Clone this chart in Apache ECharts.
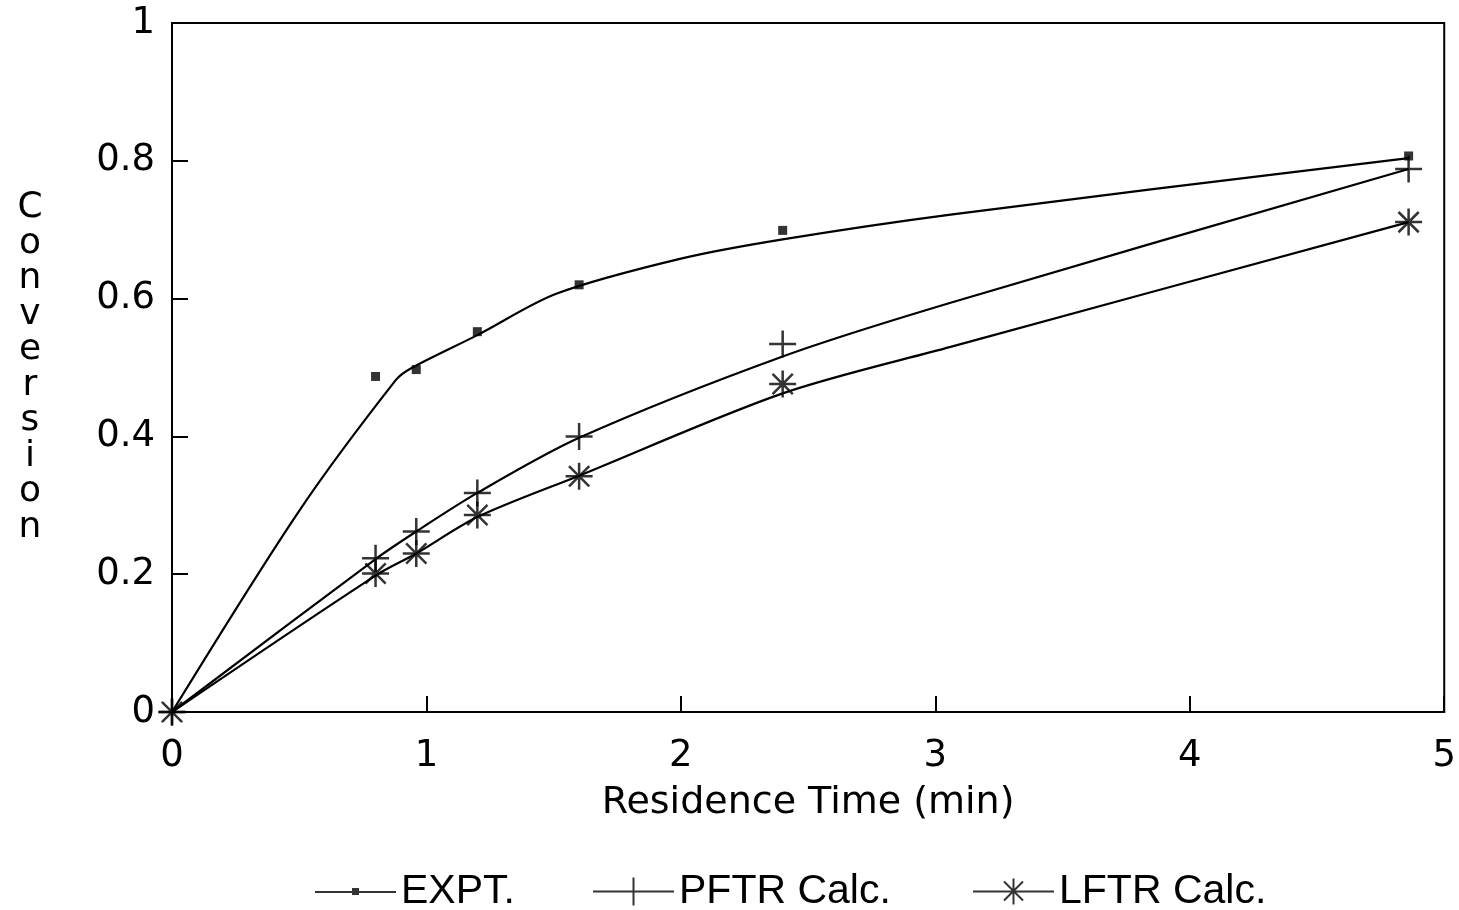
<!DOCTYPE html>
<html>
<head>
<meta charset="utf-8">
<script src="https://cdn.jsdelivr.net/npm/echarts@6/dist/echarts.min.js"></script>
<style>
html, body { margin: 0; padding: 0; background: #fff; }
#chart { width: 1459px; height: 910px; }
</style>
</head>
<body>
<div id="chart"></div>
<script>
// measured points (markers)
var timeExpt = [0.8, 0.96, 1.2, 1.6, 2.4, 4.86];
var convExpt = [0.487, 0.497, 0.552, 0.620, 0.699, 0.807];
var timeCalc = [0, 0.8, 0.96, 1.2, 1.6, 2.4, 4.86];
var convPftr = [0, 0.223, 0.262, 0.318, 0.400, 0.534, 0.788];
var convLftr = [0, 0.201, 0.230, 0.286, 0.342, 0.476, 0.711];

// fitted curves
var fitTimeExpt = [0, 0.5, 0.88, 0.94, 1.2, 1.51, 2.0, 2.4, 3.06, 4.86];
var fitConvExpt = [0, 0.292, 0.482, 0.499, 0.547, 0.607, 0.658, 0.686, 0.722, 0.804];
var fitTimeCalc = [0, 0.8, 0.96, 1.2, 1.6, 2.4, 3.06, 4.86];
var fitConvPftr = [0, 0.222, 0.262, 0.318, 0.398, 0.516, 0.594, 0.788];
var fitConvLftr = [0, 0.198, 0.230, 0.283, 0.343, 0.4625, 0.530, 0.711];

var xTicks = [0, 1, 2, 3, 4, 5];
var yTicks = [0, 0.2, 0.4, 0.6, 0.8, 1];

function pairs(xs, ys) {
    var out = [];
    for (var i = 0; i < xs.length; i++) out.push([xs[i], ys[i]]);
    return out;
}

var plusPath = 'path://M0,10L20,10M10,0L10,20';
var starPath = 'path://M0,10L20,10M10,0L10,20M2.5,2.5L17.5,17.5M17.5,2.5L2.5,17.5';

// legend icons: line with the marker in its middle
var hbar = 'M0,14L81,14L81,16L0,16Z';
var iconExpt = 'path://' + hbar + 'M37,11L44,11L44,18L37,18Z';
var iconPftr = 'path://' + hbar + 'M39.5,1L41.5,1L41.5,29L39.5,29Z';
var iconLftr = 'path://' + hbar + 'M39.5,2L41.5,2L41.5,28L39.5,28Z' +
    'M30.3,5.7L31.7,4.3L50.7,23.3L49.3,24.7Z' +
    'M49.3,4.3L50.7,5.7L31.7,24.7L30.3,23.3Z';

var dejavu = '"DejaVu Sans", sans-serif';
var legendBase = {
    orient: 'horizontal',
    top: 866,
    itemWidth: 81,
    itemHeight: 30,
    selectedMode: false,
    itemStyle: { color: '#000', borderWidth: 0 },
    textStyle: { fontFamily: '"Liberation Sans", Arial, sans-serif', fontSize: 41, color: '#000' }
};

var dom = document.getElementById('chart');
var myChart = echarts.init(dom);
var option = {
    backgroundColor: '#fff',
    animation: false,
    grid: {
        left: 172, right: 14, top: 23, bottom: 198,
        show: true, borderColor: '#000', borderWidth: 2
    },
    legend: [
        Object.assign({}, legendBase, { left: 310, data: [{ name: 'EXPT.', icon: iconExpt }] }),
        Object.assign({}, legendBase, { left: 588, data: [{ name: 'PFTR Calc.', icon: iconPftr }] }),
        Object.assign({}, legendBase, { left: 968, data: [{ name: 'LFTR Calc.', icon: iconLftr }] })
    ],
    xAxis: {
        type: 'value',
        min: xTicks[0],
        max: xTicks[xTicks.length - 1],
        interval: 1,
        name: 'Residence Time (min)',
        nameLocation: 'middle',
        nameGap: 72,
        nameTextStyle: { fontFamily: dejavu, fontSize: 38, color: '#000' },
        axisLine: { lineStyle: { color: '#000', width: 2 } },
        axisTick: { inside: true, length: 16, lineStyle: { color: '#000', width: 2 } },
        axisLabel: { margin: 26, fontFamily: dejavu, fontSize: 37, color: '#000' },
        splitLine: { show: false }
    },
    yAxis: {
        type: 'value',
        min: yTicks[0],
        max: yTicks[yTicks.length - 1],
        interval: 0.2,
        name: 'Conversion'.split('').join('\n'),
        nameLocation: 'middle',
        nameRotate: 0,
        nameGap: 142,
        nameTextStyle: { fontFamily: dejavu, fontSize: 36, lineHeight: 35.5, color: '#000', align: 'center', verticalAlign: 'middle', padding: [12, 0, 0, 0] },
        axisLine: { lineStyle: { color: '#000', width: 2 } },
        axisTick: { inside: true, length: 16, lineStyle: { color: '#000', width: 2 } },
        axisLabel: { margin: 17, fontFamily: dejavu, fontSize: 37, color: '#000' },
        splitLine: { show: false }
    },
    series: [
        {
            name: 'EXPT. fit', type: 'line', data: pairs(fitTimeExpt, fitConvExpt),
            smooth: 0.3, showSymbol: false, symbol: 'none', silent: true,
            lineStyle: { color: '#000', width: 2.2 }
        },
        {
            name: 'PFTR fit', type: 'line', data: pairs(fitTimeCalc, fitConvPftr),
            smooth: 0.3, showSymbol: false, symbol: 'none', silent: true,
            lineStyle: { color: '#000', width: 2.2 }
        },
        {
            name: 'LFTR fit', type: 'line', data: pairs(fitTimeCalc, fitConvLftr),
            smooth: 0.3, showSymbol: false, symbol: 'none', silent: true,
            lineStyle: { color: '#000', width: 2.2 }
        },
        {
            name: 'EXPT.', type: 'scatter', data: pairs(timeExpt, convExpt),
            symbol: 'rect', symbolSize: 9,
            itemStyle: { color: '#000' }
        },
        {
            name: 'PFTR Calc.', type: 'scatter', data: pairs(timeCalc, convPftr),
            symbol: plusPath, symbolSize: 27,
            itemStyle: { color: 'rgba(0,0,0,0)', borderColor: '#000', borderWidth: 2.5 }
        },
        {
            name: 'LFTR Calc.', type: 'scatter', data: pairs(timeCalc, convLftr),
            symbol: starPath, symbolSize: 27,
            itemStyle: { color: 'rgba(0,0,0,0)', borderColor: '#000', borderWidth: 2.5 }
        }
    ]
};
if (option && typeof option === "object") {
    myChart.setOption(option, true);
}
</script>
</body>
</html>
